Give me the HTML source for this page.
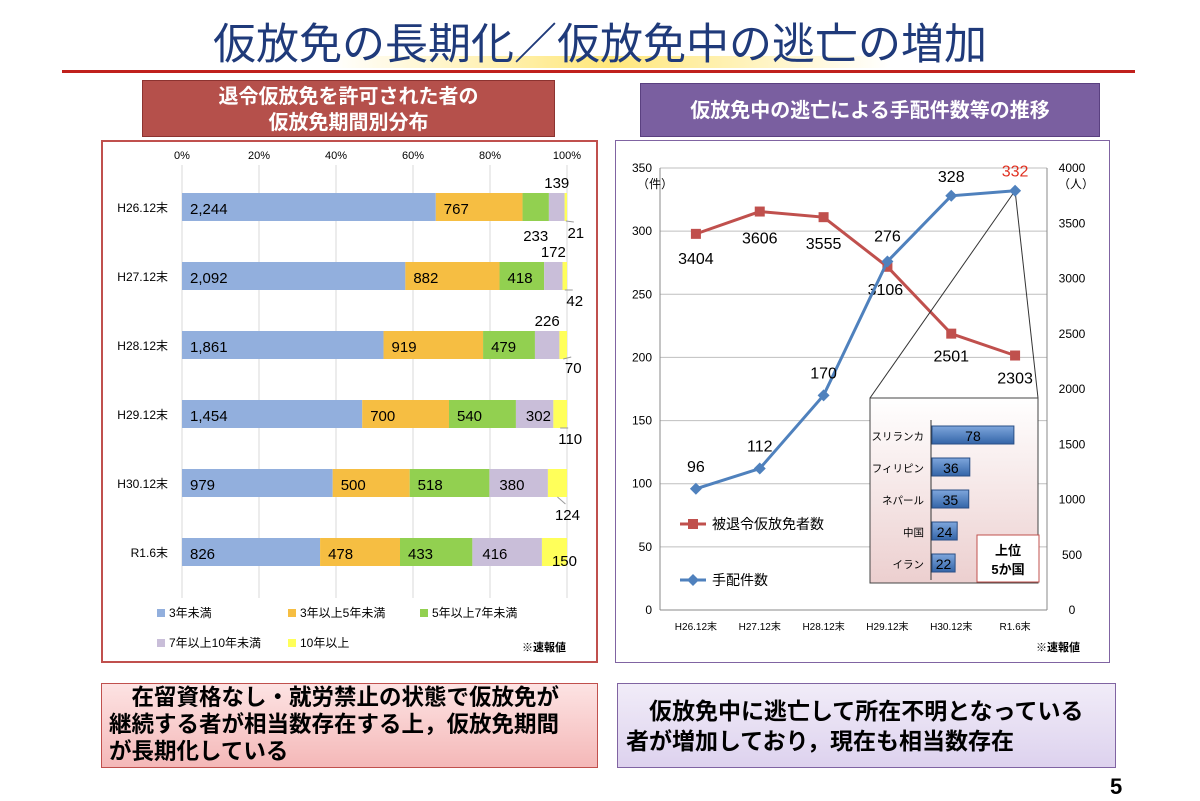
<!DOCTYPE html>
<html><head><meta charset="utf-8">
<style>
body{margin:0;width:1200px;height:801px;background:#fff;font-family:"Liberation Sans","Noto Sans CJK JP",sans-serif;position:relative;overflow:hidden}
.abs{position:absolute}
</style></head><body>
<div class="abs" style="left:330px;top:56px;width:560px;height:12px;background:linear-gradient(90deg,rgba(255,235,120,0),rgba(255,225,90,.8),rgba(255,235,120,0));border-radius:6px"></div>
<div class="abs" style="left:0;top:10px;width:1200px;text-align:center;font-size:43px;color:#1f3a7a">仮放免の長期化／仮放免中の逃亡の増加</div>
<div class="abs" style="left:62px;top:70px;width:1073px;height:3px;background:#c0201c"></div>

<div class="abs" style="left:142px;top:80px;width:413px;height:57px;background:#b5504b;border:1px solid #8c3330;color:#fff;font-weight:bold;font-size:20px;text-align:center;line-height:26px;padding-top:3px;box-sizing:border-box">退令仮放免を許可された者の<br>仮放免期間別分布</div>
<div class="abs" style="left:640px;top:83px;width:460px;height:54px;background:#7a5fa0;border:1px solid #5a4080;color:#fff;font-weight:bold;font-size:20px;text-align:center;line-height:54px;box-sizing:border-box">仮放免中の逃亡による手配件数等の推移</div>

<div class="abs" style="left:101px;top:140px;width:497px;height:523px;border:2px solid #c0504d;box-sizing:border-box"></div>
<div class="abs" style="left:615px;top:140px;width:495px;height:523px;border:1px solid #8064a2;box-sizing:border-box"></div>

<svg class="abs" style="left:0;top:0" width="1200" height="801" id="svg"></svg>

<div class="abs" style="left:101px;top:683px;width:497px;height:85px;border:1px solid #c0504d;box-sizing:border-box;background:linear-gradient(#fde3e3,#f4b8b8);font-weight:bold;font-size:22.5px;line-height:27px;padding:0 7px;white-space:nowrap;overflow:hidden">　在留資格なし・就労禁止の状態で仮放免が<br>継続する者が相当数存在する上，仮放免期間<br>が長期化している</div>
<div class="abs" style="left:617px;top:683px;width:499px;height:85px;border:1px solid #8064a2;box-sizing:border-box;background:linear-gradient(#f1ecf8,#ddd2ee);font-weight:bold;font-size:23px;line-height:30px;padding:12px 8px;white-space:nowrap;overflow:hidden">　仮放免中に逃亡して所在不明となっている<br>者が増加しており，現在も相当数存在</div>
<div class="abs" style="left:1110px;top:774px;font-size:22px;font-weight:bold">5</div>

<script>
const NS="http://www.w3.org/2000/svg";
const svg=document.getElementById('svg');
function mk(t,a,p){const e=document.createElementNS(NS,t);for(const k in a)e.setAttribute(k,a[k]);(p||svg).appendChild(e);return e;}
function tx(x,y,s,a){const e=mk('text',Object.assign({x:x,y:y,'font-size':12},a||{}));e.textContent=s;return e;}

// ---------- Left stacked bar ----------
const cats=['H26.12末','H27.12末','H28.12末','H29.12末','H30.12末','R1.6末'];
const s3=[2244,2092,1861,1454,979,826];
const s35=[767,882,919,700,500,478];
const s57=[233,418,479,540,518,433];
const s710=[139,172,226,302,380,416];
const s10=[21,42,70,110,124,150];
const series=[s3,s35,s57,s710,s10];
const colors=['#92afdd','#f6be42','#92d050','#c9bed9','#ffff5a'];
const pctTicks=['0%','20%','40%','60%','80%','100%'];
const X0=182,X1=567,rowY0=207,rowStep=69;
const px=p=>X0+(X1-X0)*p;
pctTicks.forEach((t,i)=>{const x=px(i/5);
 const g=mk('line',{x1:x,y1:165,x2:x,y2:598,stroke:'#d9d9d9'});
 
 const l=tx(x,159,t,{'text-anchor':'middle','font-size':11});
 });
const yellowOff=[31,30,28,30,37,14];
cats.forEach((c,i)=>{
 const y=rowY0+i*rowStep;
 const l=tx(168,y+5,c,{'text-anchor':'end','font-size':12});
 
 const tot=series.reduce((a,s)=>a+s[i],0);let acc=0;
 series.forEach((s,k)=>{
  const x=px(acc/tot),w=px((acc+s[i])/tot)-x;
  const r=mk('rect',{x:x,y:y-14,width:w,height:28,fill:colors[k]});
  
  let lx,ly,anch='start';
  if(k<3){lx=x+8;ly=y+7;if(k==2&&w<35){lx=x+w/2;ly=y+34;anch='middle';}}
  else if(k==3){ if(w>34){lx=x+10;ly=y+7;} else {lx=x+w/2;ly=y-19;anch='middle';}}
  else {lx=x+w/2+10;ly=y+yellowOff[i];anch='middle';
    if(i<5) mk('line',{x1:x+w/2,y1:y+14,x2:lx-2,y2:ly-16,stroke:'#999'});}
  const v=tx(lx,ly,s[i].toLocaleString('en-US'),{'text-anchor':anch,'font-size':15});
  
  acc+=s[i];});
});
const legs=['3年未満','3年以上5年未満','5年以上7年未満','7年以上10年未満','10年以上'];
const legPos=[[157,617],[288,617],[420,617],[157,647],[288,647]];
legs.forEach((t,k)=>{const[x,y]=legPos[k];
 const r=mk('rect',{x:x,y:y-8,width:8,height:8,fill:colors[k]});
 const l=tx(x+12,y,t,{'font-size':12});});
let n=tx(522,651,'※速報値',{'font-size':11,'font-weight':'bold'});

// ---------- Right line chart ----------
const years=['H26.12末','H27.12末','H28.12末','H29.12末','H30.12末','R1.6末'];
const wanted=[96,112,170,276,328,332];
const released=[3404,3606,3555,3106,2501,2303];
const leftTicks=[0,50,100,150,200,250,300,350];
const rightTicks=[0,500,1000,1500,2000,2500,3000,3500,4000];
const PL=660,PR=1047,PT=168,PB=610;
const yL=v=>PB-(PB-PT)*v/350, yR=v=>PB-(PB-PT)*v/4000;
const xC=i=>PL+4+(PR-PL-4)*(i+0.5)/years.length;
leftTicks.forEach(t=>{const y=yL(t);
 if(t>0){const g=mk('line',{x1:PL,y1:y,x2:PR,y2:y,stroke:'#bfbfbf'});}
 const l=tx(PL-8,y+4,t,{'text-anchor':'end','font-size':12});});
rightTicks.forEach(t=>{const l=tx(PR+25,yR(t)+4,t,{'text-anchor':'middle','font-size':12});});
mk('line',{x1:PL,y1:PT,x2:PL,y2:PB,stroke:'#888'});
mk('line',{x1:PR,y1:PT,x2:PR,y2:PB,stroke:'#888'});
mk('line',{x1:PL,y1:PB,x2:PR,y2:PB,stroke:'#888'});
tx(637,188,'（件）',{'font-size':12});tx(1058,188,'（人）',{'font-size':12});
years.forEach((c,i)=>{const l=tx(xC(i),630,c,{'text-anchor':'middle','font-size':10});});
n=tx(1036,651,'※速報値',{'font-size':11,'font-weight':'bold'});

let pts=released.map((v,i)=>xC(i)+','+yR(v)).join(' ');
let pl=mk('polyline',{points:pts,fill:'none',stroke:'#c0504d','stroke-width':3});
const redOff=[[0,30],[0,32],[0,32],[-2,28],[0,28],[0,28]];
released.forEach((v,i)=>{const m=mk('rect',{x:xC(i)-5,y:yR(v)-5,width:10,height:10,fill:'#c0504d'});
 const l=tx(xC(i)+redOff[i][0],yR(v)+redOff[i][1],v,{'text-anchor':'middle','font-size':16});});
mk('line',{x1:870,y1:398,x2:xC(5),y2:yL(332),stroke:'#333'});
mk('line',{x1:1038,y1:398,x2:xC(5),y2:yL(332),stroke:'#333'});
pts=wanted.map((v,i)=>xC(i)+','+yL(v)).join(' ');
pl=mk('polyline',{points:pts,fill:'none',stroke:'#4f81bd','stroke-width':3});
const bOff=[[0,-17],[0,-17],[0,-17],[0,-20],[0,-14],[0,-14]];
wanted.forEach((v,i)=>{const x=xC(i),y=yL(v);const m=mk('polygon',{points:`${x},${y-6} ${x+6},${y} ${x},${y+6} ${x-6},${y}`,fill:'#4f81bd'});
 const l=tx(x+bOff[i][0],y+bOff[i][1],v,{'text-anchor':'middle','font-size':16,fill:i==5?'#e03020':'#000'});});
mk('line',{x1:680,y1:524,x2:706,y2:524,stroke:'#c0504d','stroke-width':3});mk('rect',{x:688,y:519,width:10,height:10,fill:'#c0504d'});
let lg=tx(712,529,'被退令仮放免者数',{'font-size':14});
mk('line',{x1:680,y1:580,x2:706,y2:580,stroke:'#4f81bd','stroke-width':3});mk('polygon',{points:'693,574 699,580 693,586 687,580',fill:'#4f81bd'});
lg=tx(712,585,'手配件数',{'font-size':14});

const defs=mk('defs',{});
const gr=mk('linearGradient',{id:'ig',x1:0,y1:0,x2:0,y2:1},defs);
mk('stop',{offset:'0','stop-color':'#ffffff'},gr);mk('stop',{offset:'1','stop-color':'#eccfcf'},gr);
const bg=mk('linearGradient',{id:'bg',x1:0,y1:0,x2:0,y2:1},defs);
mk('stop',{offset:'0','stop-color':'#7ea6dc'},bg);mk('stop',{offset:'1','stop-color':'#3465a8'},bg);
let ib=mk('rect',{x:870,y:398,width:168,height:185,fill:'url(#ig)',stroke:'#444'});
const countries=['スリランカ','フィリピン','ネパール','中国','イラン'];
const cvals=[78,36,35,24,22];
mk('line',{x1:931,y1:420,x2:931,y2:580,stroke:'#333'});
countries.forEach((c,i)=>{const y=435+i*32;
 const l=tx(924,y+5,c,{'text-anchor':'end','font-size':10.5});
 const w=cvals[i]*1.05;const r=mk('rect',{x:932,y:y-9,width:w,height:18,fill:'url(#bg)',stroke:'#2a4f85'});
 const v=tx(932+w/2,y+6,cvals[i],{'text-anchor':'middle','font-size':14});});
let tb=mk('rect',{x:977,y:535,width:62,height:47,fill:'#fff',stroke:'#c0504d'});
tx(1008,555,'上位',{'text-anchor':'middle','font-size':13,'font-weight':'bold'});
tx(1008,574,'5か国',{'text-anchor':'middle','font-size':13,'font-weight':'bold'});
</script>
</body></html>
